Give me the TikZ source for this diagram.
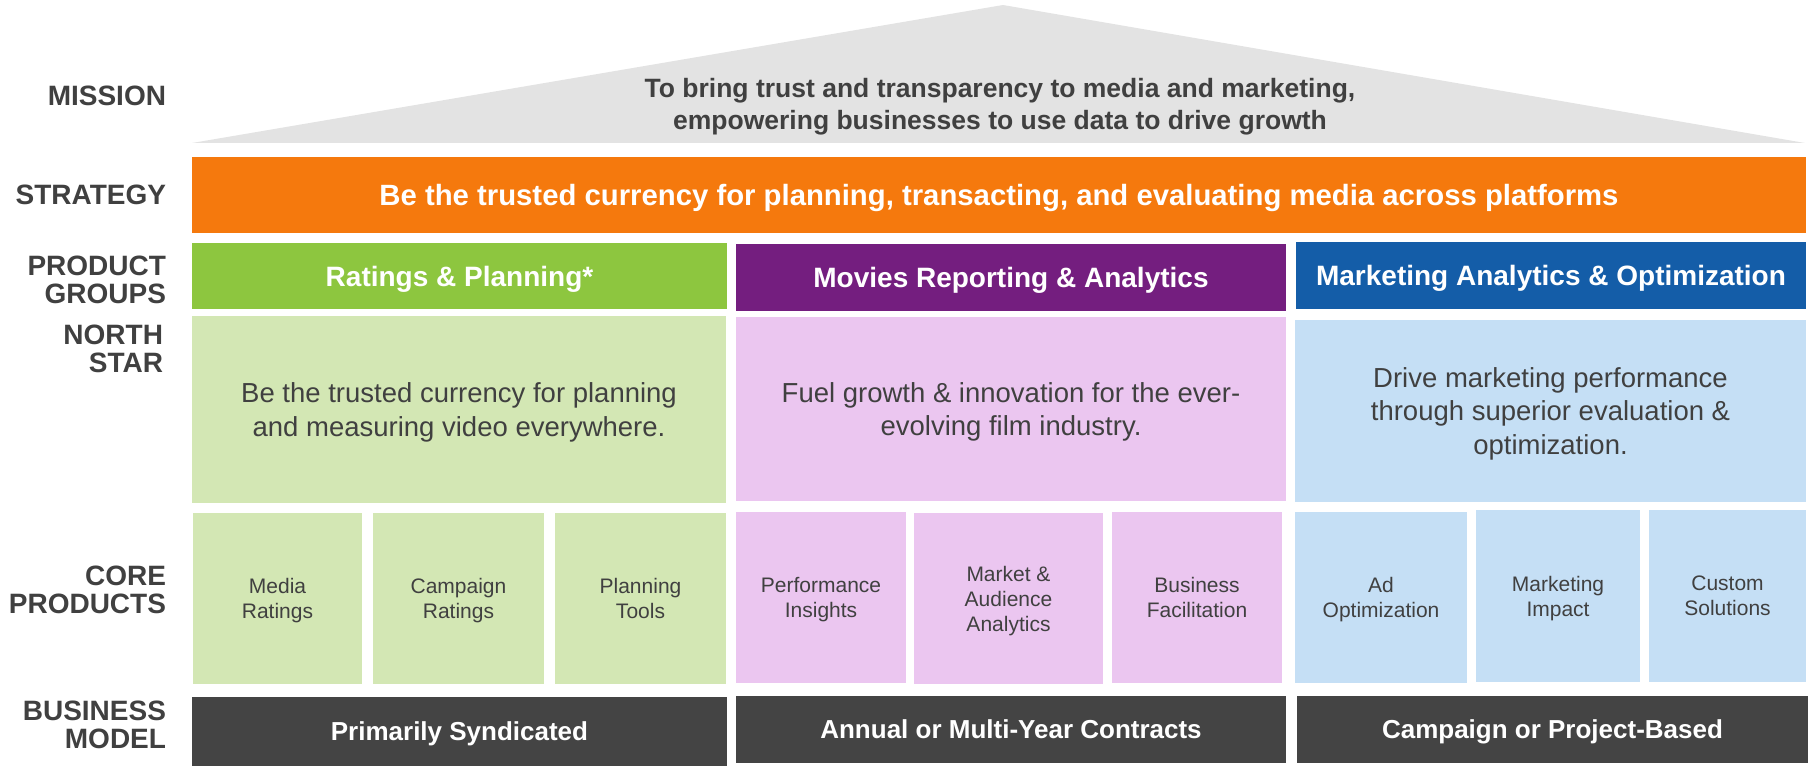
\documentclass[tikz,border=0pt]{standalone}
\usepackage{fontspec}
\setmainfont{Liberation Sans}
\usetikzlibrary{positioning}

\definecolor{txtgray}{RGB}{64,64,64}
\definecolor{roofgray}{RGB}{227,227,227}
\definecolor{stratorange}{RGB}{245,121,13}
\definecolor{rpgreen}{RGB}{141,198,63}
\definecolor{rplight}{RGB}{211,231,180}
\definecolor{mrapurple}{RGB}{116,30,127}
\definecolor{mralight}{RGB}{235,198,240}
\definecolor{maoblue}{RGB}{20,93,168}
\definecolor{maolight}{RGB}{197,223,245}
\definecolor{bmgray}{RGB}{68,68,68}

\begin{document}
\begin{tikzpicture}[x=1pt,y=-1pt]
    \tikzstyle{every node}=[inner sep=0pt,outer sep=0pt]
    \tikzstyle{rowlabel}=[anchor=east,align=right,text=txtgray,
                          font=\fontsize{28}{27.5}\selectfont\bfseries]
    \tikzstyle{cell}=[anchor=north west,align=center,text depth=0pt]
    \tikzstyle{head}=[cell,text=white,
                      font=\fontsize{28}{33}\selectfont\bfseries]
    \tikzstyle{star}=[cell,text=txtgray,font=\fontsize{27.5}{33.5}\selectfont]
    \tikzstyle{core}=[cell,text=txtgray,font=\fontsize{21}{25}\selectfont]
    \tikzstyle{model}=[cell,fill=bmgray,text=white,
                       font=\fontsize{26}{30}\selectfont\bfseries]

    \useasboundingbox (0,0) rectangle (1814,767);

    % roof
    \fill[roofgray] (192,143) coordinate (eaveL) -- (1003,5) coordinate (ridge)
        -- (1805,143) coordinate (eaveR) -- cycle;
    \node (mission) [text=txtgray,align=center,text depth=0pt,
                     font=\fontsize{26.5}{32}\selectfont\bfseries] at (1000,104)
        {To bring trust and transparency to media and marketing,\\
         empowering businesses to use data to drive growth};

    % row labels
    \node (lmis) [rowlabel] at (166,96) {MISSION};
    \node (lstr) [rowlabel] at (166,195) {STRATEGY};
    \node (lgrp) [rowlabel] at (166,280) {PRODUCT\\GROUPS};
    \node (lns)  [rowlabel] at (163,349) {NORTH\\STAR};
    \node (lcore)[rowlabel] at (166,590) {CORE\\PRODUCTS};
    \node (lbm)  [rowlabel] at (166,725) {BUSINESS\\MODEL};

    % strategy bar
    \node (strat) [head,fill=stratorange,minimum width=1614,minimum height=76,
                   font=\fontsize{29.3}{33}\selectfont\bfseries] at (192,157)
        {Be the trusted currency for planning, transacting, and evaluating media across platforms};

    % product groups
    \node (rp)  [head,fill=rpgreen,minimum width=535,minimum height=66] at (192,243)
        {Ratings \& Planning*};
    \node (mra) [head,fill=mrapurple,minimum width=550,minimum height=67] at (736,244)
        {Movies Reporting \& Analytics};
    \node (mao) [head,fill=maoblue,minimum width=510,minimum height=67] at (1296,242)
        {Marketing Analytics \& Optimization};

    % north star
    \node (rpns)  [star,fill=rplight,minimum width=534,minimum height=187] at (192,316)
        {Be the trusted currency for planning\\and measuring video everywhere.};
    \node (mrans) [star,fill=mralight,minimum width=550,minimum height=184] at (736,317)
        {Fuel growth \& innovation for the ever-\\evolving film industry.};
    \node (maons) [star,fill=maolight,minimum width=511,minimum height=182] at (1295,320)
        {Drive marketing performance\\through superior evaluation \&\\optimization.};

    % core products
    \node (rp1) [core,fill=rplight,minimum width=169,minimum height=171] at (193,513)
        {Media\\Ratings};
    \node (rp2) [core,fill=rplight,minimum width=171,minimum height=171] at (373,513)
        {Campaign\\Ratings};
    \node (rp3) [core,fill=rplight,minimum width=171,minimum height=171] at (555,513)
        {Planning\\Tools};
    \node (mra1) [core,fill=mralight,minimum width=170,minimum height=171] at (736,512)
        {Performance\\Insights};
    \node (mra2) [core,fill=mralight,minimum width=189,minimum height=171] at (914,513)
        {Market \&\\Audience\\Analytics};
    \node (mra3) [core,fill=mralight,minimum width=170,minimum height=171] at (1112,512)
        {Business\\Facilitation};
    \node (mao1) [core,fill=maolight,minimum width=172,minimum height=171] at (1295,512)
        {Ad\\Optimization};
    \node (mao2) [core,fill=maolight,minimum width=164,minimum height=172] at (1476,510)
        {Marketing\\Impact};
    \node (mao3) [core,fill=maolight,minimum width=157,minimum height=172] at (1649,510)
        {Custom\\Solutions};

    % business model
    \node (rpbm)  [model,minimum width=535,minimum height=69] at (192,697)
        {Primarily Syndicated};
    \node (mrabm) [model,minimum width=550,minimum height=67] at (736,696)
        {Annual or Multi-Year Contracts};
    \node (maobm) [model,minimum width=511,minimum height=67] at (1297,696)
        {Campaign or Project-Based};
\end{tikzpicture}
\end{document}
